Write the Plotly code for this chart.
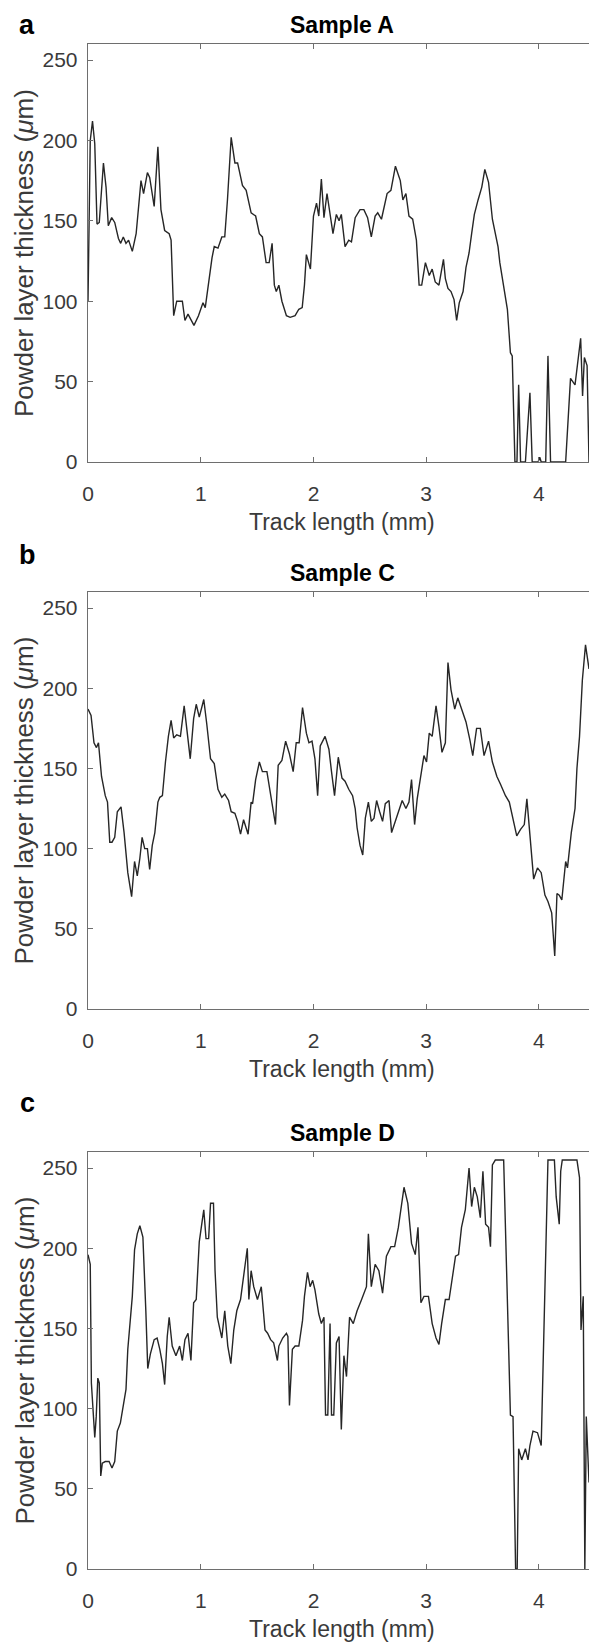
import plotly.graph_objects as go

W, H = 589, 1646

# ---------------- data ----------------
a_x = [0.0, 0.02, 0.04, 0.06, 0.08, 0.10, 0.137, 0.16, 0.18, 0.21, 0.237, 0.27, 0.29, 0.313, 0.337, 0.36,
       0.393, 0.427, 0.47, 0.493, 0.527, 0.547, 0.587, 0.62, 0.647, 0.68, 0.72, 0.737, 0.76, 0.787, 0.837,
       0.86, 0.887, 0.913, 0.94, 0.98, 1.02, 1.04, 1.073, 1.1, 1.12, 1.153, 1.187, 1.213, 1.237, 1.27,
       1.303, 1.327, 1.37, 1.403, 1.447, 1.487, 1.52, 1.547, 1.58, 1.607, 1.633, 1.653, 1.67, 1.693, 1.72,
       1.76, 1.793, 1.837, 1.87, 1.9, 1.92, 1.937, 1.973, 2.0, 2.027, 2.047, 2.07, 2.093, 2.12, 2.153,
       2.173, 2.203, 2.227, 2.247, 2.28, 2.313, 2.337, 2.37, 2.413, 2.447, 2.48, 2.513, 2.547, 2.57, 2.603,
       2.653, 2.687, 2.727, 2.77, 2.793, 2.82, 2.847, 2.88, 2.913, 2.937, 2.96, 2.993, 3.027, 3.053, 3.08,
       3.113, 3.153, 3.17, 3.193, 3.22, 3.247, 3.27, 3.293, 3.327, 3.353, 3.38, 3.403, 3.427, 3.46, 3.493,
       3.52, 3.553, 3.587, 3.637, 3.653, 3.687, 3.72, 3.747, 3.763, 3.787, 3.805, 3.82, 3.837, 3.88, 3.92,
       3.94, 3.993, 4.007, 4.02, 4.06, 4.08, 4.103, 4.237, 4.28, 4.32, 4.37, 4.387, 4.403, 4.427, 4.444]
a_y = [100, 200, 212, 198, 148, 149, 186, 171, 147, 152, 149, 139, 136, 140, 136, 138,
       131, 142, 175, 167, 180, 177, 159, 196, 157, 144, 142, 138, 91, 100, 100,
       88, 92, 89, 85, 91, 99, 96, 114, 127, 134, 133, 140, 140, 163, 202,
       186, 186, 172, 169, 155, 153, 142, 140, 124, 124, 136, 110, 106, 110, 100,
       91, 90, 91, 95, 96, 110, 129, 120, 153, 161, 153, 176, 152, 167, 153,
       142, 154, 150, 154, 134, 138, 137, 152, 157, 157, 152, 140, 153, 155, 151,
       167, 169, 184, 175, 163, 167, 153, 151, 138, 110, 110, 124, 116, 120, 112,
       110, 126, 114, 108, 106, 101, 88, 99, 106, 121, 130, 142, 154, 163, 171,
       182, 174, 151, 134, 124, 110, 95, 68, 66, 0, 0, 48, 0, 0, 43,
       0, 0, 3, 0, 0, 66, 0, 0, 52, 48, 77, 41, 65, 60, 0]

b_x = [0.0, 0.027, 0.053, 0.075, 0.093, 0.12, 0.153, 0.173, 0.193, 0.213, 0.237, 0.26, 0.293, 0.32, 0.353,
       0.387, 0.413, 0.437, 0.46, 0.48, 0.503, 0.527, 0.547, 0.57, 0.593, 0.62, 0.637, 0.66, 0.687, 0.713,
       0.737, 0.76, 0.787, 0.82, 0.853, 0.88, 0.907, 0.937, 0.96, 0.987, 1.027, 1.053, 1.087, 1.12, 1.153,
       1.187, 1.213, 1.247, 1.27, 1.303, 1.327, 1.353, 1.38, 1.42, 1.447, 1.46, 1.487, 1.52, 1.547, 1.587,
       1.62, 1.663, 1.687, 1.72, 1.753, 1.787, 1.82, 1.847, 1.873, 1.903, 1.937, 1.96, 1.987, 2.013, 2.037,
       2.06, 2.103, 2.137, 2.16, 2.187, 2.22, 2.253, 2.28, 2.313, 2.347, 2.37, 2.387, 2.413, 2.437, 2.46,
       2.487, 2.513, 2.537, 2.56, 2.587, 2.613, 2.637, 2.67, 2.693, 2.727, 2.753, 2.787, 2.82, 2.847, 2.87,
       2.897, 2.92, 2.947, 2.98, 3.003, 3.027, 3.053, 3.087, 3.113, 3.14, 3.17, 3.193, 3.22, 3.253, 3.28,
       3.313, 3.353, 3.387, 3.413, 3.447, 3.48, 3.513, 3.553, 3.587, 3.627, 3.66, 3.703, 3.737, 3.77, 3.803,
       3.837, 3.87, 3.893, 3.913, 3.937, 3.953, 3.987, 4.02, 4.053, 4.08, 4.113, 4.14, 4.16, 4.18, 4.203,
       4.237, 4.253, 4.287, 4.32, 4.337, 4.36, 4.385, 4.413, 4.444]
b_y = [187, 183, 166, 163, 166, 145, 133, 129, 104, 104, 107, 123, 126, 110, 85,
       70, 92, 83, 94, 107, 100, 100, 87, 102, 110, 129, 132, 133, 154, 170,
       180, 169, 171, 170, 189, 172, 156, 181, 190, 182, 193, 178, 156, 153, 137,
       132, 134, 130, 123, 122, 117, 109, 118, 109, 129, 128, 143, 154, 148, 148,
       133, 115, 152, 155, 167, 159, 148, 166, 166, 188, 172, 166, 167, 156, 133,
       164, 170, 162, 148, 133, 157, 144, 142, 137, 133, 125, 113, 102, 96, 119,
       129, 117, 119, 130, 123, 117, 128, 130, 110, 117, 123, 130, 125, 129, 143,
       115, 131, 143, 158, 154, 172, 170, 189, 176, 160, 166, 216, 199, 187, 194,
       187, 179, 168, 158, 175, 175, 158, 167, 154, 145, 140, 133, 129, 119, 108,
       112, 115, 131, 115, 94, 81, 88, 85, 71, 67, 60, 33, 72, 71, 68,
       92, 88, 110, 125, 150, 170, 205, 227, 212]

c_x = [0.0, 0.02, 0.03, 0.047, 0.06, 0.073, 0.087, 0.1, 0.113, 0.127, 0.153, 0.187, 0.213, 0.237, 0.26,
       0.287, 0.313, 0.337, 0.353, 0.37, 0.393, 0.413, 0.437, 0.46, 0.487, 0.513, 0.53, 0.553, 0.587, 0.613,
       0.637, 0.66, 0.68, 0.703, 0.72, 0.747, 0.78, 0.813, 0.837, 0.86, 0.887, 0.913, 0.937, 0.96, 0.987,
       1.013, 1.027, 1.047, 1.07, 1.087, 1.113, 1.127, 1.147, 1.187, 1.213, 1.24, 1.267, 1.293, 1.32, 1.353,
       1.387, 1.413, 1.427, 1.447, 1.47, 1.503, 1.537, 1.57, 1.593, 1.62, 1.647, 1.68, 1.693, 1.727, 1.76,
       1.773, 1.787, 1.813, 1.837, 1.87, 1.903, 1.92, 1.947, 1.97, 1.993, 2.013, 2.047, 2.07, 2.093, 2.107,
       2.127, 2.147, 2.16, 2.18, 2.203, 2.227, 2.247, 2.27, 2.293, 2.32, 2.353, 2.387, 2.427, 2.47, 2.487,
       2.513, 2.547, 2.58, 2.613, 2.647, 2.687, 2.72, 2.753, 2.78, 2.803, 2.837, 2.87, 2.903, 2.927, 2.953,
       2.98, 3.02, 3.053, 3.087, 3.113, 3.137, 3.17, 3.203, 3.237, 3.26, 3.287, 3.313, 3.347, 3.38, 3.403,
       3.427, 3.453, 3.48, 3.503, 3.527, 3.553, 3.57, 3.587, 3.613, 3.687, 3.713, 3.747, 3.77, 3.78, 3.793,
       3.807, 3.82, 3.847, 3.88, 3.903, 3.92, 3.947, 3.987, 4.02, 4.035, 4.06, 4.08, 4.137, 4.153, 4.18,
       4.193, 4.207, 4.337, 4.36, 4.373, 4.393, 4.407, 4.42, 4.444]
c_y = [196, 190, 116, 100, 82, 95, 119, 116, 58, 66, 67, 67, 63, 67, 86,
       91, 103, 112, 137, 153, 170, 199, 209, 214, 207, 161, 125, 134, 143, 144,
       137, 128, 115, 145, 157, 139, 133, 139, 130, 143, 147, 130, 166, 168, 204,
       217, 224, 206, 206, 228, 228, 186, 157, 144, 161, 139, 128, 149, 161, 168,
       186, 200, 168, 186, 176, 168, 176, 149, 147, 143, 141, 130, 139, 144, 147,
       145, 102, 137, 139, 139, 155, 170, 185, 176, 180, 174, 159, 153, 157, 96,
       96, 153, 96, 96, 141, 145, 87, 133, 120, 157, 153, 161, 168, 176, 209,
       176, 190, 186, 172, 195, 201, 201, 213, 228, 238, 228, 203, 196, 213, 166,
       170, 170, 153, 144, 140, 153, 168, 168, 186, 195, 196, 213, 224, 250, 226,
       238, 232, 219, 248, 215, 213, 201, 252, 255, 255, 186, 96, 95, 54, 0,
       0, 75, 68, 75, 68, 77, 86, 85, 77, 120, 207, 255, 255, 232, 215,
       248, 255, 255, 244, 149, 170, 0, 95, 54]

panels = [
    dict(letter="a", title="Sample A", x=a_x, y=a_y, top=44, bottom=462, letter_y=25),
    dict(letter="b", title="Sample C", x=b_x, y=b_y, top=592, bottom=1009, letter_y=555),
    dict(letter="c", title="Sample D", x=c_x, y=c_y, top=1152, bottom=1569, letter_y=1103),
]
x_ticks = [0, 1, 2, 3, 4]
y_ticks = [0, 50, 100, 150, 200, 250]
x_title = "Track length (mm)"
y_title = "Powder layer thickness (<i>μ</i>m)"

# ---------------- figure ----------------
FONT = "Liberation Sans, Arial, Helvetica, sans-serif"
AX_COL = "#6e6e6e"
TXT_COL = "#3a3a3a"
LEFT = 88


def px(xp):
    return xp / W


def py(yp):
    return 1 - yp / H


fig = go.Figure()
annotations = []
for i, p in enumerate(panels):
    n = "" if i == 0 else str(i + 1)
    fig.add_trace(go.Scatter(x=p["x"], y=p["y"], mode="lines",
                             line=dict(color="#262626", width=1.4),
                             xaxis="x" + n, yaxis="y" + n, showlegend=False,
                             hoverinfo="skip"))
    fig.layout["xaxis" + n] = dict(
        domain=[LEFT / W, 1], range=[0, 4.444], anchor="y" + n,
        tickvals=x_ticks, ticks="inside", ticklen=5, tickcolor=AX_COL,
        showline=True, linecolor=AX_COL, linewidth=1.3, mirror="ticks",
        showgrid=False, zeroline=False, automargin=False,
        tickfont=dict(family=FONT, size=21, color=TXT_COL),
        ticklabelstandoff=12)
    fig.layout["yaxis" + n] = dict(
        domain=[py(p["bottom"]), py(p["top"])], range=[0, 260], anchor="x" + n,
        tickvals=y_ticks, ticks="inside", ticklen=5, tickcolor=AX_COL,
        showline=True, linecolor=AX_COL, linewidth=1.3,
        showgrid=False, zeroline=False, automargin=False,
        tickfont=dict(family=FONT, size=21, color=TXT_COL),
        ticklabelstandoff=5)
    mid = (p["top"] + p["bottom"]) / 2
    annotations += [
        dict(text="<b>" + p["letter"] + "</b>", x=px(27), y=py(p["letter_y"]),
             xref="paper", yref="paper", showarrow=False, xanchor="center", yanchor="middle",
             font=dict(family=FONT, size=27, color="black")),
        dict(text="<b>" + p["title"] + "</b>", x=px(342), y=py(p["top"] - 19),
             xref="paper", yref="paper", showarrow=False, xanchor="center", yanchor="middle",
             font=dict(family=FONT, size=23, color="black")),
        dict(text=x_title, x=px(342), y=py(p["bottom"] + 60),
             xref="paper", yref="paper", showarrow=False, xanchor="center", yanchor="middle",
             font=dict(family=FONT, size=23, color=TXT_COL)),
        dict(text=y_title, x=px(24), y=py(mid), textangle=-90,
             xref="paper", yref="paper", showarrow=False, xanchor="center", yanchor="middle",
             font=dict(family=FONT, size=26, color=TXT_COL)),
    ]

fig.update_layout(width=W, height=H, margin=dict(l=0, r=0, t=0, b=0),
                  paper_bgcolor="white", plot_bgcolor="white",
                  annotations=annotations, showlegend=False)

# remove the page's default body margin so the 589x1646 figure fills the window exactly
fig.write_html("out.html",
               config={"displayModeBar": False, "staticPlot": True},
               post_script="document.body.style.margin='0';"
                           "document.documentElement.style.overflow='hidden';"
                           "document.body.style.overflow='hidden';")
